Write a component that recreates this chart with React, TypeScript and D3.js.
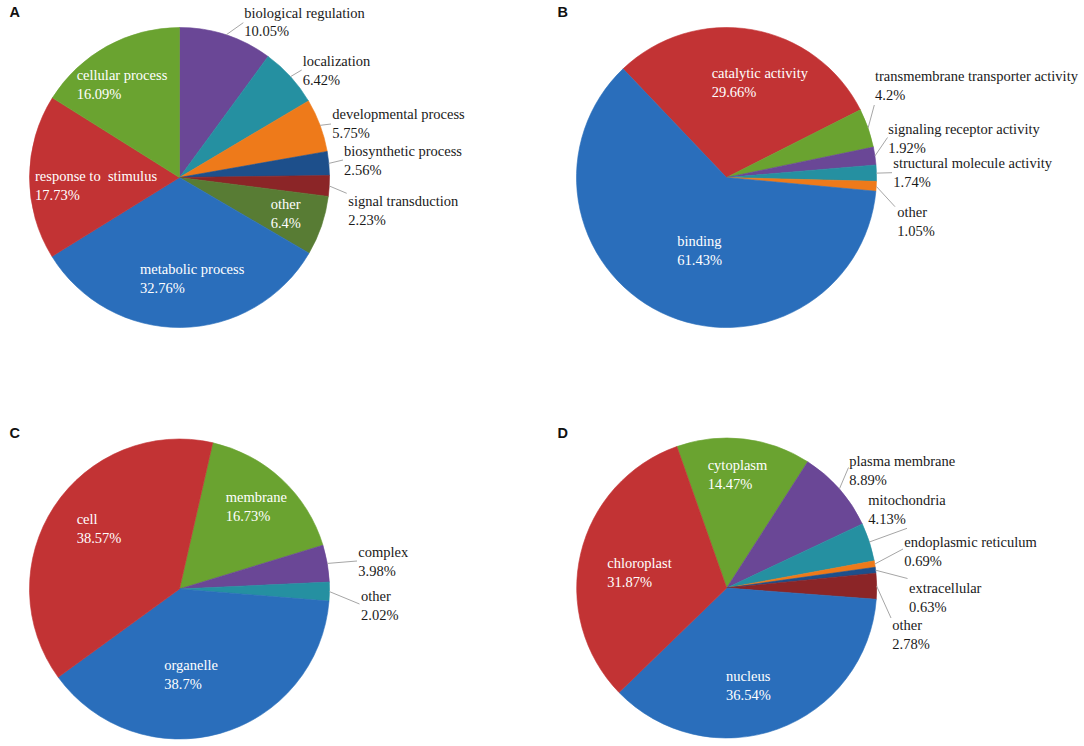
import React from 'react';
import * as d3 from 'd3';

// ---------- data ----------
const bpCategories = ['biological regulation', 'localization', 'developmental process', 'biosynthetic process', 'signal transduction', 'other', 'metabolic process', 'response to  stimulus', 'cellular process'];
const bpValues = [10.05, 6.42, 5.75, 2.56, 2.23, 6.4, 32.76, 17.73, 16.09];

const mfCategories = ['catalytic activity', 'transmembrane transporter activity', 'signaling receptor activity', 'structural molecule activity', 'other', 'binding'];
const mfValues = [29.66, 4.2, 1.92, 1.74, 1.05, 61.43];

const ccCategories = ['membrane', 'complex', 'other', 'organelle', 'cell'];
const ccValues = [16.73, 3.98, 2.02, 38.7, 38.57];

const locCategories = ['cytoplasm', 'plasma membrane', 'mitochondria', 'endoplasmic reticulum', 'extracellular', 'other', 'nucleus', 'chloroplast'];
const locValues = [14.47, 8.89, 4.13, 0.69, 0.63, 2.78, 36.54, 31.87];

const panelLetters = ['A', 'B', 'C', 'D'];

// ---------- styles ----------
const COL = {
  blue: '#2A6EBB', red: '#C23334', green: '#6AA330', purple: '#6A4796', teal: '#2590A1',
  orange: '#EE7A1A', navy: '#1D4F8B', maroon: '#8B2527', olive: '#587C34',
};
const bpColors = [COL.purple, COL.teal, COL.orange, COL.navy, COL.maroon, COL.olive, COL.blue, COL.red, COL.green];
const mfColors = [COL.red, COL.green, COL.purple, COL.teal, COL.orange, COL.blue];
const ccColors = [COL.green, COL.purple, COL.teal, COL.blue, COL.red];
const locColors = [COL.green, COL.purple, COL.teal, COL.orange, COL.navy, COL.maroon, COL.blue, COL.red];

// ---------- layout ----------
type LabelPos = { x: number; y: number; inside?: boolean; ex?: number; ey?: number };
const R = 150;
const panelGeom = [
  { cx: 179.5, cy: 177.5, start: 0, lx: 9.5, ly: 16.8 },
  { cx: 726.5, cy: 177.5, start: -43.6, lx: 557.5, ly: 16.8 },
  { cx: 179.5, cy: 589, start: 12.8, lx: 9.5, ly: 438.3 },
  { cx: 726.7, cy: 588, start: -19.4, lx: 557.5, ly: 438.3 },
];
const bpLayout: LabelPos[] = [
  { x: 244.3, y: 17.5, ex: 243.3, ey: 22.7 },
  { x: 302.7, y: 65.7, ex: 301.7, ey: 70 },
  { x: 332.3, y: 119, ex: 331, ey: 124 },
  { x: 344, y: 155.7, ex: 343, ey: 160 },
  { x: 348.3, y: 205.7, ex: 346.7, ey: 193.3 },
  { x: 270.7, y: 208.7, inside: true },
  { x: 140, y: 274.3, inside: true },
  { x: 35, y: 181, inside: true },
  { x: 76.7, y: 80, inside: true },
];
const mfLayout: LabelPos[] = [
  { x: 711.7, y: 78.3, inside: true },
  { x: 875, y: 80.7, ex: 874.3, ey: 105 },
  { x: 888.3, y: 134, ex: 887.5, ey: 137.5 },
  { x: 893.3, y: 168.3, ex: 892, ey: 172.7 },
  { x: 897.3, y: 216.7, ex: 895, ey: 206.7 },
  { x: 677.3, y: 246, inside: true },
];
const ccLayout: LabelPos[] = [
  { x: 225.7, y: 501.7, inside: true },
  { x: 358.3, y: 556.7, ex: 357, ey: 561 },
  { x: 361, y: 600.7, ex: 359.5, ey: 604 },
  { x: 164.3, y: 670, inside: true },
  { x: 76.7, y: 524, inside: true },
];
const locLayout: LabelPos[] = [
  { x: 707.7, y: 470, inside: true },
  { x: 849.3, y: 466, ex: 848.5, ey: 467.5 },
  { x: 868.3, y: 505, ex: 907, ey: 528.3 },
  { x: 904.3, y: 547.3, ex: 903, ey: 549 },
  { x: 909, y: 592.7, ex: 907.5, ey: 578.5 },
  { x: 892.3, y: 630, ex: 891, ey: 618 },
  { x: 726, y: 681, inside: true },
  { x: 607.3, y: 567.7, inside: true },
];

const panels = [
  { cats: bpCategories, vals: bpValues, colors: bpColors, layout: bpLayout },
  { cats: mfCategories, vals: mfValues, colors: mfColors, layout: mfLayout },
  { cats: ccCategories, vals: ccValues, colors: ccColors, layout: ccLayout },
  { cats: locCategories, vals: locValues, colors: locColors, layout: locLayout },
];

const FONT = 'Liberation Serif';
const FS = 14.5;
const LINE = 18.8;

function PiePanel({ idx }: { idx: number }) {
  const p = panels[idx];
  const g = panelGeom[idx];
  const s = (g.start * Math.PI) / 180;
  const pie = d3.pie<number>().sort(null).value((d) => d).startAngle(s).endAngle(s + 2 * Math.PI);
  const arcs = pie(p.vals);
  const arc = d3.arc<d3.PieArcDatum<number>>().innerRadius(0).outerRadius(R);
  return (
    <g>
      <g transform={`translate(${g.cx},${g.cy})`}>
        {arcs.map((a, i) => (
          <path key={i} d={arc(a) || ''} fill={p.colors[i]} stroke={p.colors[i]} strokeWidth={0.6} />
        ))}
      </g>
      {arcs.map((a, i) => {
        const L = p.layout[i];
        if (L.inside || L.ex === undefined) return null;
        const m = (a.startAngle + a.endAngle) / 2;
        const sx = g.cx + R * Math.sin(m);
        const sy = g.cy - R * Math.cos(m);
        return <line key={'l' + i} x1={sx} y1={sy} x2={L.ex} y2={L.ey} stroke="#A6A6A6" strokeWidth={1} />;
      })}
      {arcs.map((a, i) => {
        const L = p.layout[i];
        const fill = L.inside ? '#FFFFFF' : '#1A1A1A';
        return (
          <text key={'t' + i} fontSize={FS} fill={fill} style={{ whiteSpace: 'pre', fontFamily: FONT }}>
            <tspan x={L.x} y={L.y}>{p.cats[i]}</tspan>
            <tspan x={L.x} y={L.y + LINE}>{`${p.vals[i]}%`}</tspan>
          </text>
        );
      })}
      <text x={g.lx} y={g.ly} fontWeight="bold" fontSize={14.5} fill="#111" style={{ fontFamily: 'Liberation Sans' }}>
        {panelLetters[idx]}
      </text>
    </g>
  );
}

export default function App() {
  return (
    <svg width={1084} height={746} viewBox="0 0 1084 746" style={{ position: 'absolute', left: 0, top: 0, background: '#fff' }}>
      <rect x={0} y={0} width={1084} height={746} fill="#fff" />
      {panels.map((_, i) => (
        <PiePanel key={i} idx={i} />
      ))}
    </svg>
  );
}
